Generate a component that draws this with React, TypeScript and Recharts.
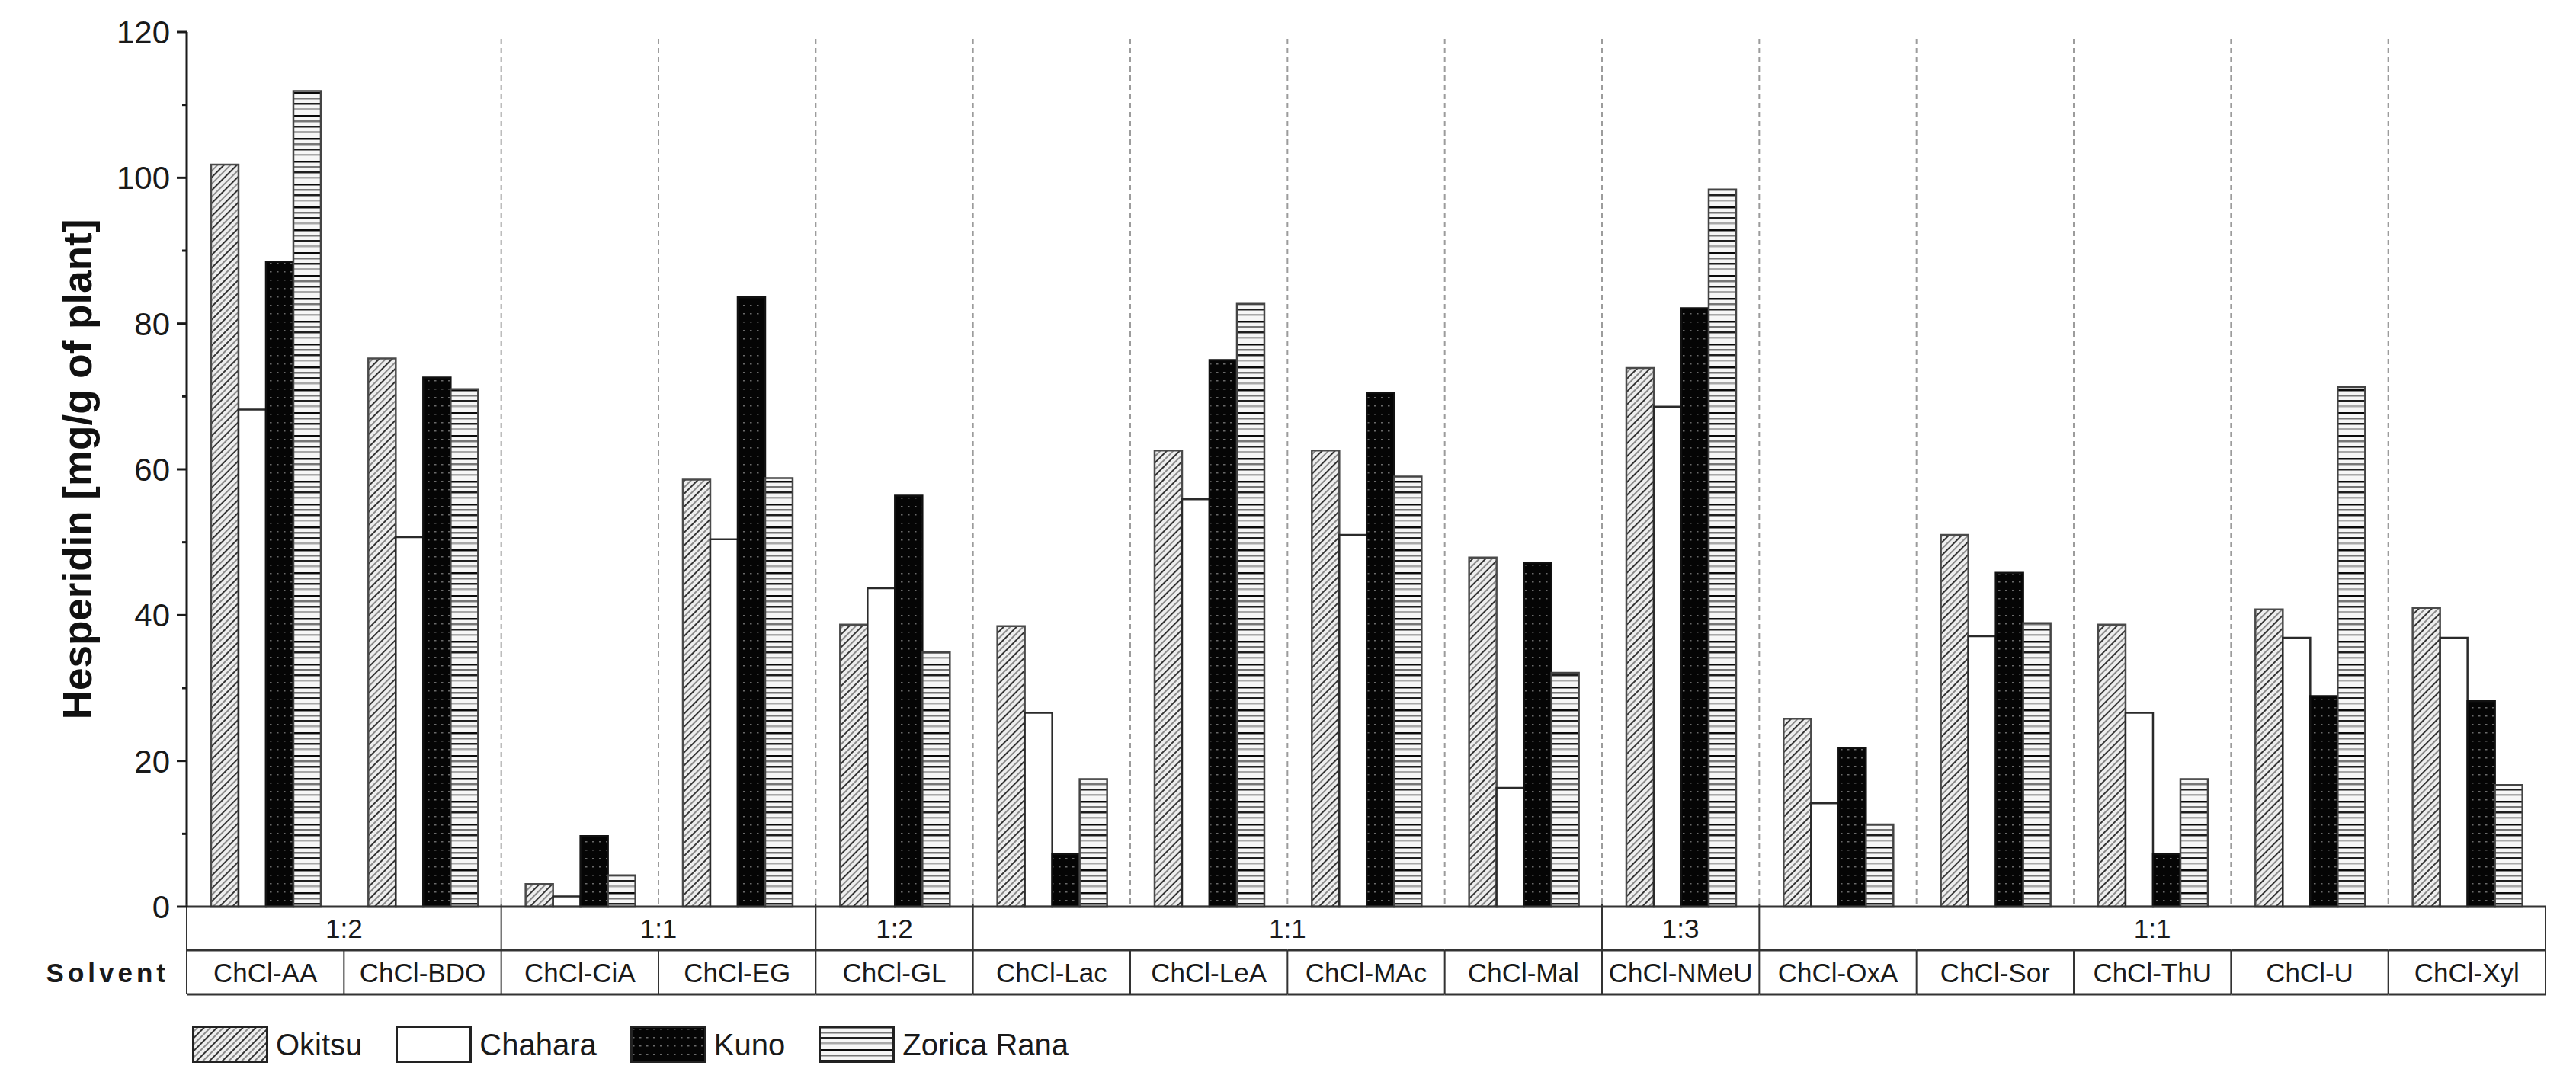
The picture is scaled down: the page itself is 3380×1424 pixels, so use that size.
import React from "react";
import { Bar, BarChart, Legend, XAxis, YAxis } from "recharts";

const CATEGORIES = [
  "ChCl-AA",
  "ChCl-BDO",
  "ChCl-CiA",
  "ChCl-EG",
  "ChCl-GL",
  "ChCl-Lac",
  "ChCl-LeA",
  "ChCl-MAc",
  "ChCl-Mal",
  "ChCl-NMeU",
  "ChCl-OxA",
  "ChCl-Sor",
  "ChCl-ThU",
  "ChCl-U",
  "ChCl-Xyl",
];

// molar ratio row of the table, each label spans several solvents
const RATIO_LABELS = ["1:2", "1:1", "1:2", "1:1", "1:3", "1:1"];
const RATIO_SPANS = [2, 2, 1, 4, 1, 5];

const OKITSU = [101.8, 75.2, 3.1, 58.6, 38.7, 38.5, 62.6, 62.6, 47.9, 73.9, 25.8, 51.0, 38.7, 40.8, 41.0];
const CHAHARA = [68.2, 50.7, 1.4, 50.4, 43.7, 26.6, 55.9, 51.0, 16.3, 68.6, 14.2, 37.1, 26.6, 36.9, 36.9];
const KUNO = [88.5, 72.6, 9.7, 83.6, 56.4, 7.2, 75.0, 70.5, 47.2, 82.1, 21.8, 45.8, 7.2, 28.9, 28.2];
const ZORICA_RANA = [111.9, 71.0, 4.3, 58.8, 34.9, 17.5, 82.7, 59.0, 32.1, 98.4, 11.3, 38.9, 17.5, 71.3, 16.7];

const Y_TICKS = [0, 10, 20, 30, 40, 50, 60, 70, 80, 90, 100, 110, 120];

const SERIES = [
  { key: "okitsu", name: "Okitsu", fill: "url(#hatch)", stroke: "#4a4a4a" },
  { key: "chahara", name: "Chahara", fill: "#fff", stroke: "#2a2a2a" },
  { key: "kuno", name: "Kuno", fill: "url(#dots)", stroke: "#111" },
  { key: "zorica", name: "Zorica Rana", fill: "url(#hlines)", stroke: "#444" },
];

const data = CATEGORIES.map((name, i) => ({
  name,
  okitsu: OKITSU[i],
  chahara: CHAHARA[i],
  kuno: KUNO[i],
  zorica: ZORICA_RANA[i],
}));

const W = 3380;
const H = 1424;
const MARGIN = { top: 42, right: 40, bottom: 104, left: 0 };
const Y_AXIS_W = 245;
const X_AXIS_H = 130;
const PLOT_W = W - MARGIN.left - MARGIN.right - Y_AXIS_W;
const PLOT_H = H - MARGIN.top - MARGIN.bottom - X_AXIS_H;
const BAND = PLOT_W / CATEGORIES.length;
const FONT = '"Liberation Sans", Arial, Helvetica, sans-serif';
const INK = "#1a1a1a";

const ROW1 = 57;
const ROW2 = 115;

const GROUP_STARTS = RATIO_SPANS.map((_, g) =>
  RATIO_SPANS.slice(0, g).reduce((a, b) => a + b, 0)
);

function TableTick(props: any) {
  const { x, y, index, payload } = props;
  const l = x - BAND / 2;
  const r = x + BAND / 2;
  const g = GROUP_STARTS.indexOf(index);
  const last = index === CATEGORIES.length - 1;
  return (
    <g>
      {index >= 2 && (
        <line x1={l} x2={l} y1={y - PLOT_H + 9} y2={y - 2} stroke="#9c9c9c" strokeWidth={2} strokeDasharray="7 5" />
      )}
      {g >= 0 && <line x1={l} x2={l} y1={y - 4} y2={y + ROW1} stroke="#333" strokeWidth={2} />}
      {g >= 0 && (
        <text
          x={l + (RATIO_SPANS[g] * BAND) / 2}
          y={y + ROW1 / 2}
          dy="0.36em"
          textAnchor="middle"
          fontSize={35}
          fontFamily={FONT}
          fill={INK}
        >
          {RATIO_LABELS[g]}
        </text>
      )}
      <line x1={l} x2={r} y1={y + ROW1} y2={y + ROW1} stroke="#333" strokeWidth={3} />
      <line x1={l} x2={l} y1={y + ROW1} y2={y + ROW2} stroke="#333" strokeWidth={2} />
      <text x={x} y={y + (ROW1 + ROW2) / 2} dy="0.36em" textAnchor="middle" fontSize={35} fontFamily={FONT} fill={INK}>
        {payload.value}
      </text>
      <line x1={l} x2={r} y1={y + ROW2} y2={y + ROW2} stroke="#333" strokeWidth={3} />
      {last && <line x1={r} x2={r} y1={y} y2={y + ROW2} stroke="#333" strokeWidth={2} />}
      {index === 0 && (
        <text
          x={l - 23}
          y={y + (ROW1 + ROW2) / 2}
          dy="0.36em"
          textAnchor="end"
          fontSize={35}
          fontWeight="bold"
          letterSpacing={5}
          fontFamily={FONT}
          fill={INK}
        >
          Solvent
        </text>
      )}
    </g>
  );
}

function YTick(props: any) {
  const { x, y, payload } = props;
  const v = payload.value;
  const major = v % 20 === 0;
  return (
    <g>
      <line x1={x - (major ? 13 : 6)} x2={x} y1={y} y2={y} stroke={INK} strokeWidth={3} />
      {major && (
        <text x={x - 22} y={y} dy="0.36em" textAnchor="end" fontSize={42} fontFamily={FONT} fill={INK}>
          {v}
        </text>
      )}
    </g>
  );
}

function YTitle(props: any) {
  const vb = props.viewBox || { x: 0, y: MARGIN.top, width: Y_AXIS_W, height: PLOT_H };
  const cx = vb.x + 101;
  const cy = vb.y + vb.height / 2;
  return (
    <text
      x={cx}
      y={cy}
      transform={`rotate(-90, ${cx}, ${cy})`}
      dy="0.36em"
      textAnchor="middle"
      fontSize={53}
      fontWeight="bold"
      fontFamily={FONT}
      fill="#111"
    >
      Hesperidin [mg/g of plant]
    </text>
  );
}

function LegendContent() {
  return (
    <div style={{ display: "flex", alignItems: "center", gap: 44, fontFamily: FONT, fontSize: 40, color: INK }}>
      {SERIES.map((s) => (
        <div key={s.key} style={{ display: "flex", alignItems: "center", gap: 10 }}>
          <svg width={100} height={50} style={{ display: "block" }}>
            <rect x={1.5} y={1.5} width={97} height={46} fill={s.fill} stroke="#222" strokeWidth={3} />
          </svg>
          <span>{s.name}</span>
        </div>
      ))}
    </div>
  );
}

function Patterns() {
  return (
    <svg width={0} height={0} style={{ position: "absolute" }}>
      <defs>
        <pattern id="hatch" patternUnits="userSpaceOnUse" width={12} height={12} patternTransform="rotate(45)">
          <rect width={12} height={12} fill="#eeeeee" />
          <line x1={1} y1={0} x2={1} y2={12} stroke="#1e1e1e" strokeWidth={1.8} />
          <line x1={7} y1={0} x2={7} y2={12} stroke="#808080" strokeWidth={1.8} />
        </pattern>
        <pattern id="dots" patternUnits="userSpaceOnUse" width={9} height={11}>
          <rect width={9} height={11} fill="#050505" />
          <rect x={3} y={4} width={2.5} height={1.5} fill="#6a6a6a" />
        </pattern>
        <pattern id="hlines" patternUnits="userSpaceOnUse" width={10} height={30}>
          <rect width={10} height={30} fill="#f6f6f6" />
          <rect y={1} width={10} height={2.5} fill="#0a0a0a" />
          <rect y={8} width={10} height={2.5} fill="#777" />
          <rect y={15} width={10} height={2.5} fill="#1e1e1e" />
          <rect y={22} width={10} height={2.5} fill="#a8a8a8" />
        </pattern>
      </defs>
    </svg>
  );
}

export default function App() {
  return (
    <div style={{ width: W, height: H, background: "#fff", position: "relative" }}>
      <style>{`body{margin:0;background:#fff}`}</style>
      <Patterns />
      <BarChart width={W} height={H} data={data} margin={MARGIN} barCategoryGap="15.5%" barGap={0}>
        <XAxis
          dataKey="name"
          interval={0}
          height={X_AXIS_H}
          tickSize={0}
          tickMargin={0}
          tickLine={false}
          axisLine={{ stroke: "#333", strokeWidth: 3 }}
          tick={<TableTick />}
        />
        <YAxis
          type="number"
          domain={[0, 120]}
          ticks={Y_TICKS}
          interval={0}
          width={Y_AXIS_W}
          tickSize={0}
          tickMargin={0}
          tickLine={false}
          axisLine={{ stroke: INK, strokeWidth: 3 }}
          tick={<YTick />}
          label={<YTitle />}
        />
        <Legend
          layout="horizontal"
          verticalAlign="middle"
          align="center"
          content={<LegendContent />}
          wrapperStyle={{ top: 1346, left: 252, width: 1400 }}
        />
        {SERIES.map((s) => (
          <Bar
            key={s.key}
            dataKey={s.key}
            name={s.name}
            fill={s.fill}
            stroke={s.stroke}
            strokeWidth={2.5}
            isAnimationActive={false}
          />
        ))}
      </BarChart>
    </div>
  );
}
